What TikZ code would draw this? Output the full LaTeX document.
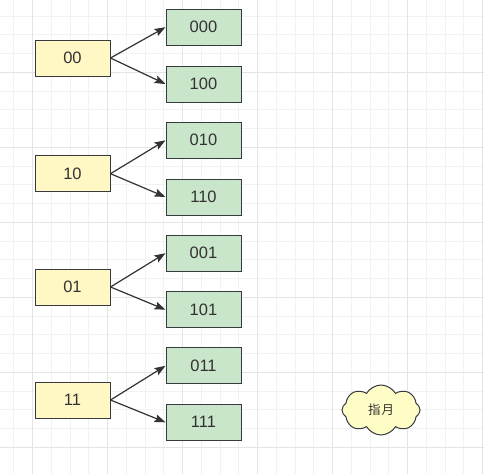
\documentclass[tikz,border=0pt]{standalone}
\usepackage{fontspec}
\setmainfont{Liberation Sans}
\newfontfamily\cjk{Noto Sans CJK SC}
\usetikzlibrary{arrows.meta,shapes.symbols}

\definecolor{gridminor}{HTML}{F2F2F2}
\definecolor{gridmajor}{HTML}{E4E4E4}
\definecolor{keyfill}{HTML}{FFF8C4}
\definecolor{leaffill}{HTML}{C9E5CA}
\definecolor{edge}{HTML}{36393D}
\definecolor{ink}{HTML}{333333}
\definecolor{cloudfill}{HTML}{FFFDC6}

\tikzset{
  key/.style={draw=edge,line width=1pt,fill=keyfill,minimum width=75pt,minimum height=36pt,
    inner sep=0pt,text=ink,font=\fontsize{16.5}{18}\selectfont},
  leaf/.style={key,fill=leaffill},
  link/.style={draw=ink,line width=1.2pt,-{Stealth[length=11pt,width=8pt,inset=2pt]}},
  note/.style={cloud,cloud puffs=8,cloud puff arc=120,aspect=1.5,draw=edge,line width=1pt,
    fill=cloudfill,minimum width=78pt,minimum height=50pt,inner sep=0pt,text=ink,
    font=\cjk\fontsize{12.5}{14}\selectfont}
}

\begin{document}
\begin{tikzpicture}[x=1pt,y=-1pt]
  \useasboundingbox (0,0) rectangle (484,474);
  \fill[white] (0,0) rectangle (484,474);

  % grid
  \foreach \i in {-1,...,24} {
    \draw[gridminor,line width=1pt] ({32.7+18.75*\i},0) -- ({32.7+18.75*\i},474);
    \draw[gridminor,line width=1pt] (0,{72.3+18.75*(\i-4)}) -- (484,{72.3+18.75*(\i-4)});
  }
  \foreach \i in {0,...,6} {
    \draw[gridmajor,line width=1pt] ({32.7+75*\i},0) -- ({32.7+75*\i},474);
    \draw[gridmajor,line width=1pt] (0,{72.3+75*(\i-1)}) -- (484,{72.3+75*(\i-1)});
  }

  % keys and their leaves
  \foreach \k/\yk/\a/\ya/\b/\yb in {00/58/000/27.2/100/84, 10/173.7/010/140.3/110/197,
      01/287/001/253.2/101/309.7, 11/400/011/365.8/111/422.3} {
    \node[key] (k\k) at (72.5,\yk) {\k};
    \node[leaf] (l\a) at (203.5,\ya) {\a};
    \node[leaf] (l\b) at (203.5,\yb) {\b};
    \draw[link] (k\k.east) -- (l\a.west);
    \draw[link] (k\k.east) -- (l\b.west);
  }

  \node[note] (moon) at (381,410) {指\hspace{1pt}月};
\end{tikzpicture}
\end{document}
